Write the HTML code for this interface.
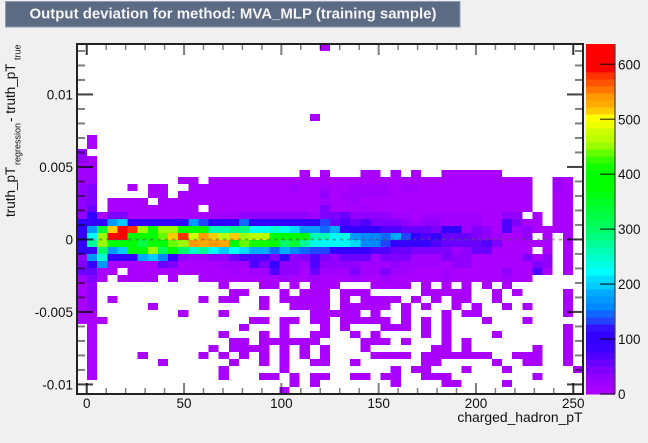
<!DOCTYPE html>
<html lang="en">
<head>
<meta charset="utf-8">
<title>Output deviation for method: MVA_MLP (training sample)</title>
<style>
html,body{margin:0;padding:0;background:#f0f0f0;}
body{width:648px;height:443px;overflow:hidden;}
svg{display:block;font-family:"Liberation Sans",Arial,sans-serif;}
</style>
</head>
<body>
<svg id="chart" xmlns="http://www.w3.org/2000/svg" width="648" height="443" viewBox="0 0 648 443">
  <rect x="0" y="0" width="648" height="443" fill="#f0f0f0"/>
  <rect x="5.5" y="1.5" width="454.5" height="25.5" fill="#5c6b84" stroke="#8e9db5" stroke-width="1"/>
  <text x="29.5" y="18.5" font-size="14.6" font-weight="bold" fill="#f4f4f4" textLength="407" lengthAdjust="spacingAndGlyphs">Output deviation for method: MVA_MLP (training sample)</text>
  <rect x="77" y="44" width="506" height="350" fill="#ffffff"/>
  <g id="cells" shape-rendering="crispEdges"></g>
  <g id="zero-line"></g>
  <g id="axes"></g>
  <g id="colorbar"></g>
  <rect x="77" y="44" width="506" height="350" fill="none" stroke="#222222" stroke-width="2"/>
  <g fill="#111111">
    <text transform="translate(15,217) rotate(-90)" font-size="13.5">truth_pT</text>
    <text transform="translate(20.5,165) rotate(-90)" font-size="9">regression</text>
    <text transform="translate(15,122) rotate(-90)" font-size="13.5">- truth_pT</text>
    <text transform="translate(20.5,60) rotate(-90)" font-size="9">true</text>
  </g>
  <text x="582.5" y="422" font-size="13.9" text-anchor="end" fill="#111111">charged_hadron_pT</text>
</svg>
<script>
// Axis ranges
const xRange = [-5, 255];
const yRange = [-0.01066, 0.01348];
const zRange = [0, 637];

// Tick values and labels
const xMajorTicks = [0, 50, 100, 150, 200, 250];
const xMajorLabels = ["0", "50", "100", "150", "200", "250"];
const xMinorTicks = [10, 20, 30, 40, 60, 70, 80, 90, 110, 120, 130, 140, 160, 170, 180, 190, 210, 220, 230, 240];
const yMajorTicks = [-0.01, -0.005, 0, 0.005, 0.01];
const yMajorLabels = ["-0.01", "-0.005", "0", "0.005", "0.01"];
const yMinorTicks = [-0.009, -0.008, -0.007, -0.006, -0.004, -0.003, -0.002, -0.001, 0.001, 0.002, 0.003, 0.004, 0.006, 0.007, 0.008, 0.009, 0.011, 0.012, 0.013];
const zTicks = [0, 100, 200, 300, 400, 500, 600];
const zLabels = ["0", "100", "200", "300", "400", "500", "600"];

// 50 colour levels, lowest to highest
const palette = ["#aa00ff","#a000ff","#9100ff","#8000ff","#6a00ff","#5000ff","#3c00ff","#3300ff","#3300ff","#3311ff",
"#2244ff","#1166ff","#0088ff","#0099ff","#00aaff","#00ccff","#00ddff","#00ffff","#00ffe5","#00ffcc",
"#00ffb3","#00ff99","#00ff80","#00ff66","#00ff55","#00ff44","#00ff33","#00ff22","#00ff11","#00ff00",
"#00ff00","#00ff00","#11ff00","#33ff00","#66ff00","#99ff00","#bbff00","#ccff00","#eeff00","#ffff00",
"#ffcc00","#ffaa00","#ff9900","#ff7700","#ff5500","#ff3300","#ff0000","#ff0000","#ff0000","#ff0000"];

// Rows with no entries at all
const emptyRow = new Array(50).fill(0);

// Bin contents: 50 rows (top to bottom), 50 columns (left to right)
const binCounts = [
[0,0,0,0,0,0,0,0,0,0, 0,0,0,0,0,0,0,0,0,0, 0,0,0,0,5,0,0,0,0,0, 0,0,0,0,0,0,0,0,0,0, 0,0,0,0,0,0,0,0,0,0],
emptyRow, emptyRow, emptyRow, emptyRow, emptyRow, emptyRow, emptyRow, emptyRow, emptyRow,
[0,0,0,0,0,0,0,0,0,0, 0,0,0,0,0,0,0,0,0,0, 0,0,0,5,0,0,0,0,0,0, 0,0,0,0,0,0,0,0,0,0, 0,0,0,0,0,0,0,0,0,0],
emptyRow, emptyRow,
[0,5,0,0,0,0,0,0,0,0, 0,0,0,0,0,0,0,0,0,0, 0,0,0,0,0,0,0,0,0,0, 0,0,0,0,0,0,0,0,0,0, 0,0,0,0,0,0,0,0,0,0],
[0,5,0,0,0,0,0,0,0,0, 0,0,0,0,0,0,0,0,0,0, 0,0,0,0,0,0,0,0,0,0, 0,0,0,0,0,0,0,0,0,0, 0,0,0,0,0,0,0,0,0,0],
[32,0,0,0,0,0,0,0,0,0, 0,0,0,0,0,0,0,0,0,0, 0,0,0,0,0,0,0,0,0,0, 0,0,0,0,0,0,0,0,0,0, 0,0,0,0,0,0,0,0,0,0],
[32,5,0,0,0,0,0,0,0,0, 0,0,0,0,0,0,0,0,0,0, 0,0,0,0,0,0,0,0,0,0, 0,0,0,0,0,0,0,0,0,0, 0,0,0,0,0,0,0,0,0,0],
[19,19,0,0,0,0,0,0,0,0, 0,0,0,0,0,0,0,0,0,0, 0,0,0,0,0,0,0,0,0,0, 0,0,0,0,0,0,0,0,0,0, 0,0,0,0,0,0,0,0,0,0],
[19,19,0,0,0,0,0,0,0,0, 0,0,0,0,0,0,0,0,0,0, 0,0,5,0,5,0,0,0,5,5, 0,5,0,5,0,0,5,5,5,5, 5,5,0,0,0,0,0,0,0,0],
[19,19,0,0,0,0,0,0,0,0, 5,5,0,5,5,5,5,5,5,5, 5,5,5,5,5,5,5,5,5,5, 5,5,5,5,5,5,5,5,5,5, 5,5,5,5,5,0,0,19,5,0],
[32,45,0,0,0,5,0,5,5,0, 0,5,5,5,5,5,5,5,5,5, 5,19,5,5,19,5,5,19,19,19, 19,5,19,19,5,5,5,5,5,5, 5,5,5,5,5,0,0,19,5,0],
[32,45,0,0,0,0,0,5,5,0, 5,5,5,5,5,5,5,5,5,5, 5,5,5,5,32,5,19,19,19,19, 19,5,5,5,5,5,5,5,5,5, 5,5,5,5,5,0,0,5,5,0],
[32,45,0,5,5,5,5,0,5,5, 5,5,5,5,5,5,5,5,5,5, 5,5,5,5,19,5,5,19,5,5, 5,5,5,5,5,5,5,5,5,5, 5,5,5,5,5,0,0,5,5,0],
[32,57,0,5,5,5,5,5,5,5, 5,5,0,5,5,5,5,5,5,5, 5,5,5,5,45,5,5,5,19,5, 5,5,5,5,5,5,5,5,5,5, 5,5,5,5,5,0,0,5,5,0],
[32,90,5,45,45,5,5,5,5,5, 5,5,5,19,19,19,32,32,32,32, 32,32,32,19,45,45,57,32,32,32, 32,19,19,5,19,19,19,19,19,19, 5,5,32,32,0,5,0,5,5,0],
[90,90,90,172,197,90,90,90,90,90, 90,172,134,90,90,90,147,90,90,90, 90,90,90,90,134,57,70,57,70,45, 45,45,32,19,32,32,19,19,19,19, 5,5,70,45,5,5,0,5,5,0],
[90,172,340,515,620,575,452,400,452,452, 400,400,400,260,260,285,285,223,223,248, 223,210,172,172,147,185,90,90,90,90, 70,70,57,57,57,45,90,90,19,45, 32,5,70,19,32,5,5,5,5,0],
[90,223,452,620,620,400,400,400,440,515, 575,477,541,515,465,515,452,470,470,400, 400,400,400,260,260,223,235,172,160,160, 147,185,134,90,70,90,57,57,57,45, 32,19,5,5,32,0,5,0,5,0],
[90,275,452,400,400,400,330,400,400,440, 452,541,530,541,530,405,435,420,420,400, 300,340,275,235,223,223,223,205,160,160, 134,90,90,90,90,70,57,57,57,57, 70,45,5,5,5,5,5,0,5,0],
[90,90,300,172,197,400,400,452,310,400, 300,248,275,223,197,223,205,185,185,147, 185,160,147,134,134,90,90,90,90,70, 70,57,57,45,45,45,45,19,32,57, 57,5,5,5,5,0,5,0,5,0],
[32,172,248,90,90,90,185,197,160,90, 32,19,19,32,32,57,70,70,70,45, 90,32,45,70,45,32,57,57,57,19, 45,45,45,19,19,19,45,32,32,5, 5,5,5,5,45,5,32,0,5,0],
[45,90,172,5,5,5,5,5,57,45, 5,5,5,5,19,19,19,70,45,90, 32,32,19,70,32,32,32,32,19,19, 19,32,19,19,19,19,5,32,32,5, 5,5,5,5,5,45,32,0,5,0],
[57,57,5,5,0,5,5,5,5,5, 5,5,5,5,5,19,5,19,19,70, 32,32,5,57,19,19,19,45,19,19, 45,19,19,5,5,5,19,5,5,5, 5,5,32,5,5,70,5,0,5,0],
[19,45,5,0,5,5,5,5,0,5, 0,0,5,5,5,5,5,5,5,5, 19,5,5,19,5,5,5,19,5,5, 19,5,5,5,5,5,19,5,5,5, 5,5,19,5,5,0,0,0,0,0],
[5,32,0,0,0,0,0,0,0,0, 0,0,0,0,5,0,0,0,5,5, 0,5,0,5,5,5,0,0,0,5, 5,5,5,0,5,0,5,0,5,0, 5,0,5,0,0,0,0,0,0,0],
[5,32,0,0,0,0,0,0,0,0, 0,0,0,0,0,5,5,0,0,0, 5,0,5,5,5,0,5,5,5,0, 0,0,0,0,5,5,5,5,5,0, 0,5,0,5,0,0,0,0,5,0],
[5,32,0,5,0,0,0,0,0,0, 0,0,5,0,5,5,0,0,5,0, 5,5,5,5,5,0,5,0,5,5, 5,5,0,5,0,5,0,5,5,0, 0,5,0,0,0,0,0,0,5,0],
[5,32,0,0,0,0,0,5,0,0, 0,0,0,0,0,0,0,0,5,0, 0,5,5,5,5,0,5,5,5,5, 5,0,5,0,5,0,0,5,0,5, 0,0,5,0,5,0,0,0,5,0],
[5,5,0,0,0,0,0,0,0,0, 5,0,0,0,5,0,0,0,0,0, 0,0,0,5,5,5,5,5,0,5, 0,0,5,0,0,0,5,0,5,5, 0,0,0,0,0,0,0,0,5,0],
[5,5,5,0,0,0,0,0,0,0, 0,0,0,0,0,0,0,5,5,0, 5,5,0,5,5,0,5,5,5,5, 5,0,5,0,5,0,5,0,0,0, 5,0,0,0,5,0,0,0,0,0],
[0,5,0,0,0,0,0,0,0,0, 0,0,0,0,0,0,5,0,0,0, 5,0,0,0,5,0,5,0,0,0, 5,5,5,0,5,0,5,0,0,0, 0,0,0,0,0,0,0,0,5,0],
[0,5,0,0,0,0,0,0,0,0, 0,0,0,0,5,0,0,0,5,0, 5,0,0,5,5,0,0,5,0,5, 0,0,0,0,5,0,5,0,0,0, 0,5,0,0,0,0,0,0,5,0],
[0,5,0,0,0,0,0,0,0,0, 0,0,0,0,0,5,5,0,5,5, 5,5,5,5,0,0,0,0,5,5, 5,0,5,0,0,0,5,0,5,0, 0,0,0,0,0,0,0,0,5,0],
[0,5,0,0,0,0,0,0,0,0, 0,0,0,5,0,5,5,5,5,0, 5,0,5,0,5,0,0,0,5,0, 0,0,0,0,0,5,5,0,5,0, 0,0,0,0,0,5,0,0,5,0],
[0,5,0,0,0,0,5,0,0,0, 0,0,5,0,5,0,5,0,5,0, 5,0,5,0,5,0,0,0,0,5, 5,5,5,0,5,5,5,5,5,5, 5,0,0,5,5,5,0,0,5,0],
[0,5,0,0,0,0,0,0,5,0, 0,0,0,0,0,5,0,0,5,0, 5,0,0,5,5,0,0,5,0,0, 0,0,0,0,5,5,0,0,0,0, 0,5,0,0,5,5,0,0,5,0],
[0,5,0,0,0,0,0,0,0,0, 0,0,0,0,5,0,0,0,0,0, 5,0,0,0,0,0,0,0,0,0, 0,5,0,5,5,0,0,0,5,0, 0,0,5,0,0,0,0,0,0,5],
[0,5,0,0,0,0,0,0,0,0, 0,0,0,0,5,0,0,0,5,5, 0,5,0,5,5,0,0,5,5,0, 5,5,0,0,5,5,5,0,0,0, 0,0,0,0,0,5,0,0,0,0],
[0,0,0,0,0,0,0,0,0,0, 0,0,0,0,0,0,0,0,0,0, 0,5,0,5,0,0,0,0,0,0, 0,5,0,0,0,0,5,5,0,0, 0,0,5,0,0,0,0,0,0,0],
[0,0,0,0,0,0,0,0,0,0, 0,0,0,0,0,0,0,0,0,0, 5,0,0,0,0,0,0,0,0,0, 0,0,0,0,0,0,0,0,0,0, 0,0,0,0,0,0,0,0,0,0]
];

const SVG_NS = "http://www.w3.org/2000/svg";
const plotLeft = 77, plotRight = 583, plotTop = 44, plotBottom = 394;
const barLeft = 586, barRight = 615;

function xScale(v) { return plotLeft + (v - xRange[0]) / (xRange[1] - xRange[0]) * (plotRight - plotLeft); }
function yScale(v) { return plotBottom - (v - yRange[0]) / (yRange[1] - yRange[0]) * (plotBottom - plotTop); }
function zScale(v) { return plotBottom - (v - zRange[0]) / (zRange[1] - zRange[0]) * (plotBottom - plotTop); }
function colorFor(v) {
  const level = Math.floor((v - zRange[0]) / (zRange[1] - zRange[0]) * palette.length);
  return palette[Math.max(0, Math.min(palette.length - 1, level))];
}
function make(tag, attrs, parent, text) {
  const el = document.createElementNS(SVG_NS, tag);
  for (const k in attrs) el.setAttribute(k, attrs[k]);
  if (text !== undefined) el.textContent = text;
  parent.appendChild(el);
  return el;
}

// Heatmap cells
const cellsGroup = document.getElementById("cells");
const rowCount = binCounts.length;
binCounts.forEach(function (row, r) {
  const colCount = row.length;
  const xStep = (xRange[1] - xRange[0]) / colCount;
  const yStep = (yRange[1] - yRange[0]) / rowCount;
  row.forEach(function (count, c) {
    if (count <= 0) return;
    const x0 = xScale(xRange[0] + c * xStep), x1 = xScale(xRange[0] + (c + 1) * xStep);
    const y0 = yScale(yRange[1] - r * yStep), y1 = yScale(yRange[1] - (r + 1) * yStep);
    const cell = make("rect", { x: x0, y: y0, width: x1 - x0, height: y1 - y0, fill: colorFor(count) }, cellsGroup);
    
    
  });
});

// Dashed zero reference line
const zeroGroup = document.getElementById("zero-line");
const zeroLine = make("line", { x1: plotLeft, x2: plotRight, y1: yScale(0), y2: yScale(0), stroke: "#555555", "stroke-opacity": 0.45, "stroke-width": 2, "stroke-dasharray": "3.5 3.8" }, zeroGroup);



// Axis ticks and labels
const axesGroup = document.getElementById("axes");
function drawXTick(v, len, width, opacity) {
  const x = xScale(v);
  [[plotTop, plotTop + len], [plotBottom, plotBottom - len]].forEach(function (ends) {
    const tick = make("line", { x1: x, x2: x, y1: ends[0], y2: ends[1], stroke: "#000000", "stroke-width": width, "stroke-opacity": opacity }, axesGroup);
    
    
  });
}
function drawYTick(v, len, width, opacity) {
  const y = yScale(v);
  [[plotLeft, plotLeft + len], [plotRight, plotRight - len]].forEach(function (ends) {
    const tick = make("line", { x1: ends[0], x2: ends[1], y1: y, y2: y, stroke: "#000000", "stroke-width": width, "stroke-opacity": opacity }, axesGroup);
    
    
  });
}
xMinorTicks.forEach(function (v) { drawXTick(v, 6, 1.5, 0.5); });
xMajorTicks.forEach(function (v) { drawXTick(v, 11, 2, (v === 0 || v === 250) ? 0.8 : 0.5); });
yMinorTicks.forEach(function (v) { drawYTick(v, 8, 2, 0.5); });
yMajorTicks.forEach(function (v) { drawYTick(v, 16, 2, 0.75); });

xMajorTicks.forEach(function (v, i) {
  const label = make("text", { x: xScale(v), y: 408, "font-size": 13.5, "text-anchor": "middle", fill: "#111111" }, axesGroup, xMajorLabels[i]);
  
  
});
yMajorTicks.forEach(function (v, i) {
  const label = make("text", { x: 73, y: yScale(v) + 5, "font-size": 13.5, "text-anchor": "end", fill: "#111111" }, axesGroup, yMajorLabels[i]);
  
  
});

// Colour scale
const barGroup = document.getElementById("colorbar");
palette.forEach(function (color, i) {
  const span = (zRange[1] - zRange[0]) / palette.length;
  const y0 = zScale(zRange[0] + (i + 1) * span), y1 = zScale(zRange[0] + i * span);
  const band = make("rect", { x: barLeft, y: y0, width: barRight - barLeft, height: y1 - y0 + 0.5, fill: color, "shape-rendering": "crispEdges" }, barGroup);
  
  
});
const barAxis = make("line", { x1: barRight, x2: barRight, y1: plotTop, y2: plotBottom, stroke: "#444444", "stroke-width": 1.2 }, barGroup);


zTicks.forEach(function (v, i) {
  const y = zScale(v);
  const tick = make("line", { x1: barRight, x2: barRight - 15, y1: y, y2: y, stroke: "#000000", "stroke-width": 1.5, "stroke-opacity": 0.65 }, barGroup);
  
  
  const label = make("text", { x: 618, y: y + 5, "font-size": 13.5, fill: "#111111" }, barGroup, zLabels[i]);
  
  
});
</script>
</body>
</html>
